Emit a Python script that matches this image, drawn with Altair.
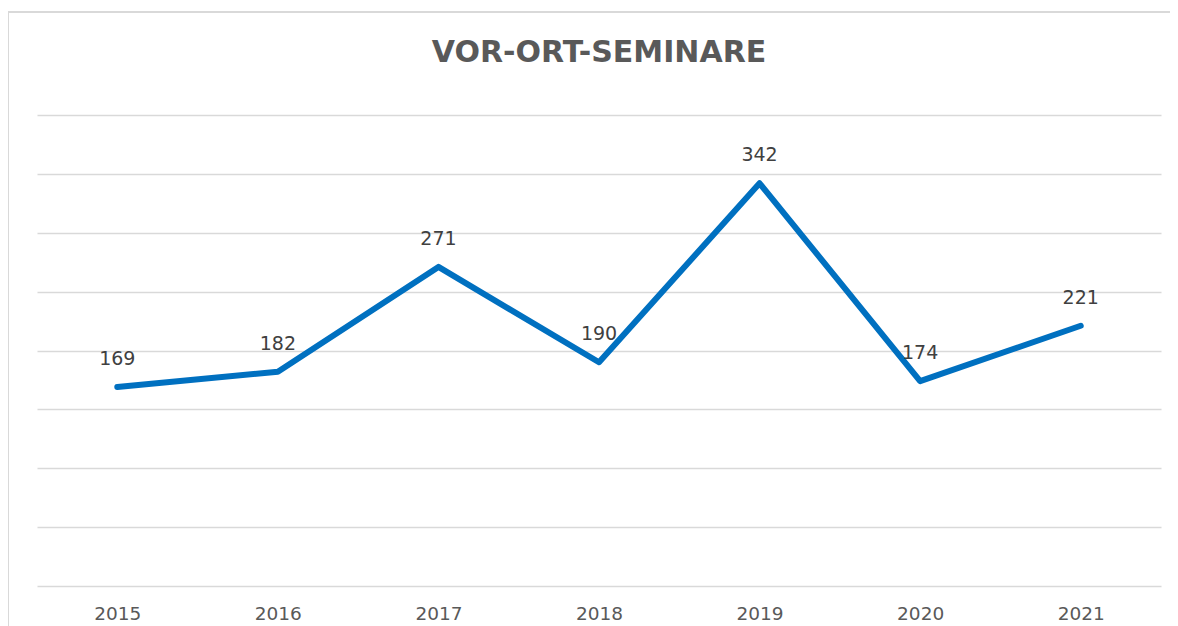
import altair as alt
import pandas as pd

years = ["2015", "2016", "2017", "2018", "2019", "2020", "2021"]
values = [169, 182, 271, 190, 342, 174, 221]
title_text = "VOR-ORT-SEMINARE"
y_ticks = [0, 50, 100, 150, 200, 250, 300, 350, 400]

df = pd.DataFrame({"year": years, "value": values})

W, H = 1124, 471

base = alt.Chart(df).encode(
    x=alt.X(
        "year:O",
        scale=alt.Scale(type="point", padding=0.5),
        axis=alt.Axis(
            title=None, labelAngle=0, domain=False, ticks=False, grid=False,
            labelFont="DejaVu Sans", labelFontSize=18.5, labelColor="#595959",
            labelPadding=18,
        ),
    ),
    y=alt.Y(
        "value:Q",
        scale=alt.Scale(domain=[0, 400], nice=False, zero=True),
        axis=alt.Axis(
            title=None, values=y_ticks, labels=False, ticks=False, domain=False,
            grid=True, gridColor="#d9d9d9", gridWidth=1.5,
        ),
    ),
)

line = base.mark_line(color="#0070C0", strokeWidth=6, strokeJoin="round", strokeCap="round")

labels = base.mark_text(
    dy=-22, baseline="alphabetic", font="DejaVu Sans", fontSize=19, color="#404040"
).encode(text="value:Q")

title = alt.Chart(pd.DataFrame({"t": [title_text]})).mark_text(
    font="DejaVu Sans", fontWeight="bold", fontSize=30, color="#595959",
    baseline="alphabetic", align="center",
).encode(x=alt.value(W / 2), y=alt.value(-53), text="t:N")

border = alt.Chart(pd.DataFrame({"b": [0]})).mark_rect(
    fillOpacity=0, stroke="#d9d9d9", strokeWidth=2
).encode(
    x=alt.value(-29), x2=alt.value(1150), y=alt.value(-103), y2=alt.value(540)
)

chart = alt.layer(border, line, labels, title).properties(
    width=W, height=H,
    padding={"left": 29, "top": 107, "right": 9, "bottom": 40},
    autosize=alt.AutoSizeParams(type="none"),
    background="white",
).configure_view(stroke=None)

chart.save("out.html", embed_options={"renderer": "svg", "actions": False})
